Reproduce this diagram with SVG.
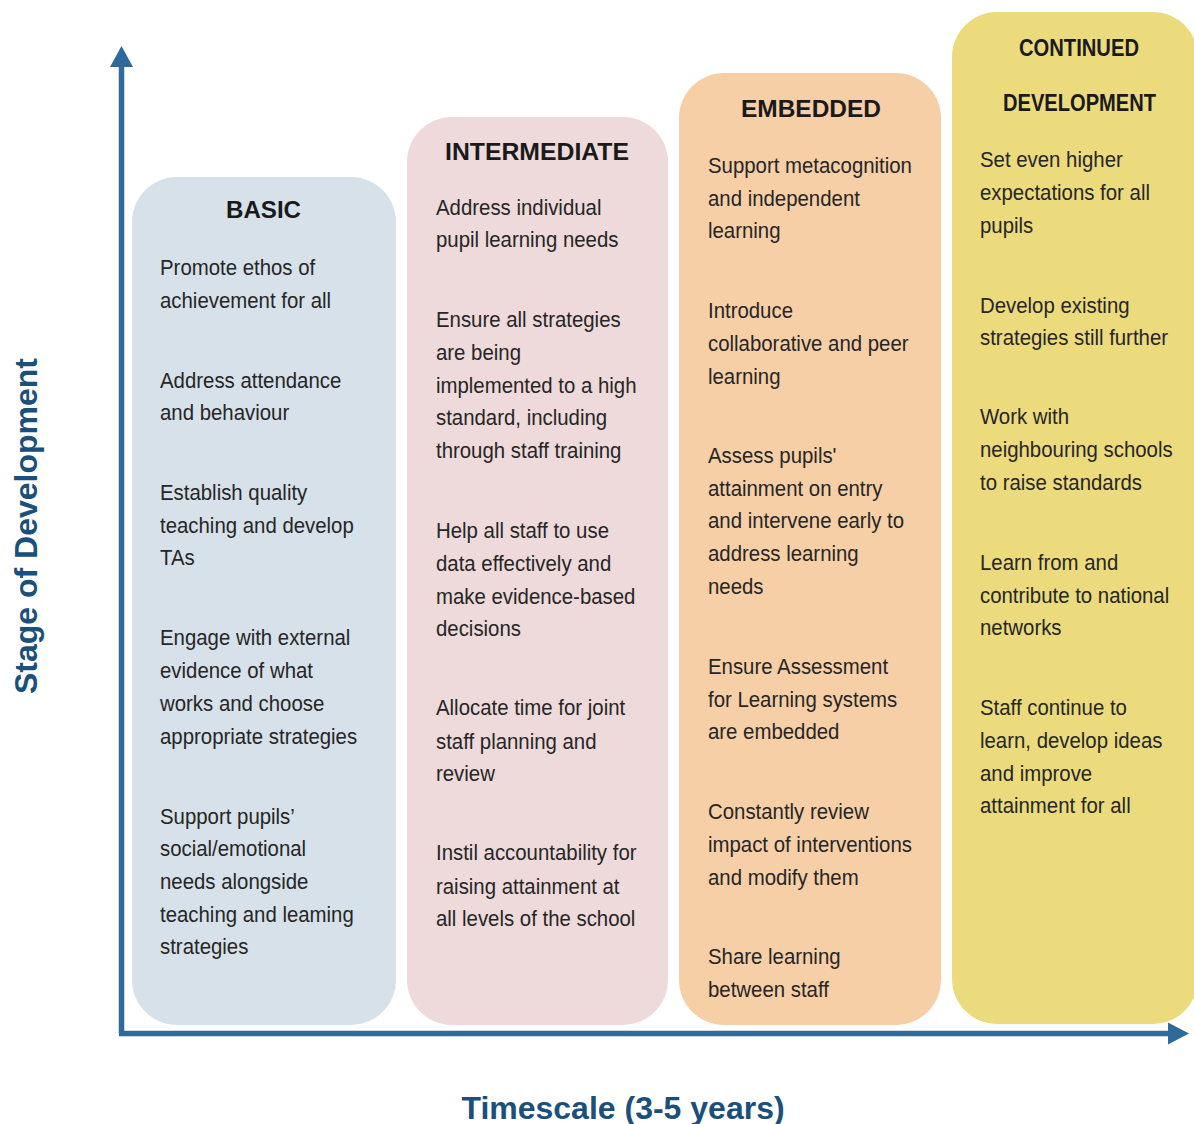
<svg xmlns="http://www.w3.org/2000/svg" width="1194" height="1124" viewBox="0 0 1194 1124">
<style>
.body{font-family:"Liberation Sans",Arial,sans-serif;font-size:23px;fill:#262626}
.title{font-family:"Liberation Sans",Arial,sans-serif;font-size:23px;font-weight:bold;fill:#1a1a1a;text-anchor:middle}
.axis{font-family:"Liberation Sans",Arial,sans-serif;font-size:32px;font-weight:bold;fill:#1B4F7C;text-anchor:middle}
</style>
<rect width="1194" height="1124" fill="#ffffff"/>
<g id="basic">
<rect x="132" y="177" width="264" height="848" rx="45" fill="#D7E1E9"/>
<text class="title" x="263.5" y="218" textLength="75" lengthAdjust="spacingAndGlyphs">BASIC</text>
<g transform="translate(160 -1.5) scale(0.887 1)" class="body">
<text x="0" y="277">Promote ethos of</text>
<text x="0" y="310">achievement for all</text>
<text x="0" y="390">Address attendance</text>
<text x="0" y="422">and behaviour</text>
<text x="0" y="502">Establish quality</text>
<text x="0" y="535">teaching and develop</text>
<text x="0" y="567">TAs</text>
<text x="0" y="647">Engage with external</text>
<text x="0" y="680">evidence of what</text>
<text x="0" y="713">works and choose</text>
<text x="0" y="746">appropriate strategies</text>
<text x="0" y="826">Support pupils’</text>
<text x="0" y="858">social/emotional</text>
<text x="0" y="891">needs alongside</text>
<text x="0" y="924">teaching and leaming</text>
<text x="0" y="956">strategies</text>
</g>
</g>
<g id="intermediate">
<rect x="407" y="117" width="261" height="908" rx="45" fill="#EEDADB"/>
<text class="title" x="537" y="160" textLength="184" lengthAdjust="spacingAndGlyphs">INTERMEDIATE</text>
<g transform="translate(436 -1.5) scale(0.887 1)" class="body">
<text x="0" y="217">Address individual</text>
<text x="0" y="249">pupil learning needs</text>
<text x="0" y="329">Ensure all strategies</text>
<text x="0" y="362">are being</text>
<text x="0" y="395">implemented to a high</text>
<text x="0" y="427">standard, including</text>
<text x="0" y="460">through staff training</text>
<text x="0" y="540">Help all staff to use</text>
<text x="0" y="573">data effectively and</text>
<text x="0" y="606">make evidence-based</text>
<text x="0" y="638">decisions</text>
<text x="0" y="717">Allocate time for joint</text>
<text x="0" y="751">staff planning and</text>
<text x="0" y="783">review</text>
<text x="0" y="862">Instil accountability for</text>
<text x="0" y="896">raising attainment at</text>
<text x="0" y="928">all levels of the school</text>
</g>
</g>
<g id="embedded">
<rect x="679" y="73" width="262" height="952" rx="45" fill="#F7CFA7"/>
<text class="title" x="811" y="117" textLength="140" lengthAdjust="spacingAndGlyphs">EMBEDDED</text>
<g transform="translate(708 -1.5) scale(0.887 1)" class="body">
<text x="0" y="175">Support metacognition</text>
<text x="0" y="208">and independent</text>
<text x="0" y="240">learning</text>
<text x="0" y="320">Introduce</text>
<text x="0" y="353">collaborative and peer</text>
<text x="0" y="386">learning</text>
<text x="0" y="465">Assess pupils'</text>
<text x="0" y="498">attainment on entry</text>
<text x="0" y="530">and intervene early to</text>
<text x="0" y="563">address learning</text>
<text x="0" y="596">needs</text>
<text x="0" y="676">Ensure Assessment</text>
<text x="0" y="709">for Learning systems</text>
<text x="0" y="741">are embedded</text>
<text x="0" y="821">Constantly review</text>
<text x="0" y="854">impact of interventions</text>
<text x="0" y="887">and modify them</text>
<text x="0" y="966">Share learning</text>
<text x="0" y="999">between staff</text>
</g>
</g>
<g id="continued">
<rect x="952" y="12" width="246" height="1012" rx="45" fill="#EBDB7D"/>
<text class="title" x="1079" y="56" textLength="120" lengthAdjust="spacingAndGlyphs">CONTINUED</text>
<text class="title" x="1079.5" y="111" textLength="153" lengthAdjust="spacingAndGlyphs">DEVELOPMENT</text>
<g transform="translate(980 -1.5) scale(0.887 1)" class="body">
<text x="0" y="169">Set even higher</text>
<text x="0" y="202">expectations for all</text>
<text x="0" y="235">pupils</text>
<text x="0" y="315">Develop existing</text>
<text x="0" y="347">strategies still further</text>
<text x="0" y="426">Work with</text>
<text x="0" y="459">neighbouring schools</text>
<text x="0" y="492">to raise standards</text>
<text x="0" y="572">Learn from and</text>
<text x="0" y="605">contribute to national</text>
<text x="0" y="637">networks</text>
<text x="0" y="717">Staff continue to</text>
<text x="0" y="750">learn, develop ideas</text>
<text x="0" y="783">and improve</text>
<text x="0" y="815">attainment for all</text>
</g>
</g>
<g id="connectors">
<path d="M121.5,1033.5 L121.5,66" fill="none" stroke="#2F6A99" stroke-width="5.5"/>
<path d="M110,67 L121.5,46 L133,67 Z" fill="#2F6A99"/>
<path d="M119,1033.5 L1169,1033.5" fill="none" stroke="#2F6A99" stroke-width="5.5"/>
<path d="M1168,1022.5 L1189,1033.5 L1168,1044.5 Z" fill="#2F6A99"/>
</g>
<g id="axis-labels">
<text class="axis" transform="translate(37 526) rotate(-90)" x="0" y="0">Stage of Development</text>
<text class="axis" x="623" y="1119">Timescale (3-5 years)</text>
</g>
</svg>
